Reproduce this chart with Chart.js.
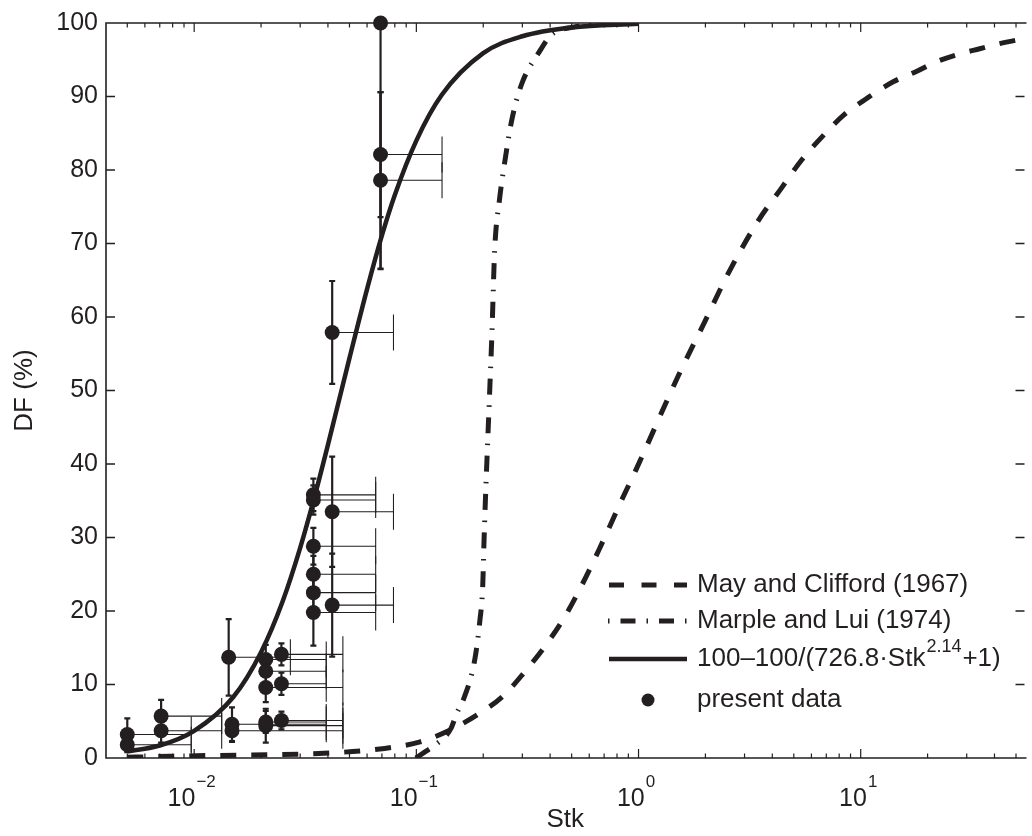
<!DOCTYPE html>
<html>
<head>
<meta charset="utf-8">
<script src="https://cdn.jsdelivr.net/npm/chart.js@4.4.0/dist/chart.umd.min.js"></script>
<style>
  body { margin: 0; background: #fff; }
  #caixa { width: 1032px; height: 836px; }
</style>
</head>
<body>
<div id="caixa"><canvas id="graficoDF" width="1032" height="836"></canvas></div>
<script>
// curvas
const mayStk = [0.005, 0.0102, 0.0413, 0.0719, 0.104, 0.142, 0.193, 0.247, 0.307, 0.377, 0.463, 0.551, 0.663, 0.849, 0.970, 1.51, 1.99, 2.52, 3.44, 4.39, 5.40, 6.84, 8.40, 10.6, 14.0, 17.8, 21.8, 27.9, 34.3, 42.2, 55];
const mayDF = [0.1, 0.3, 0.7, 1.3, 2.2, 3.8, 6.1, 8.5, 11.7, 15.1, 19.1, 23.3, 28.3, 35.4, 39.1, 52.0, 59.4, 65.8, 73.0, 77.5, 81.3, 84.8, 87.5, 89.7, 92.0, 93.4, 94.7, 95.8, 96.5, 97.2, 97.9];

const marpleStk = [0.0995, 0.109, 0.122, 0.143, 0.152, 0.164, 0.183, 0.193, 0.199, 0.2014, 0.2045, 0.213, 0.219, 0.225, 0.237, 0.250, 0.268, 0.297, 0.358, 0.405, 0.5, 0.7, 1.0];
const marpleDF = [0, 0.8, 1.8, 4.0, 6.1, 8.2, 13.3, 18.6, 23.5, 29, 35, 48.6, 58, 68.9, 76.1, 81.1, 86.6, 91.6, 96.1, 98.4, 99.4, 99.9, 100];

const ajusteStk = [0.005, 0.007, 0.01, 0.015, 0.02, 0.025, 0.03, 0.035, 0.04, 0.05, 0.06, 0.07, 0.08, 0.1, 0.13, 0.2, 0.3, 0.5, 1.0];
const ajusteDF = [0.9, 1.7, 3.7, 8.3, 14.4, 21.3, 28.6, 35.8, 42.6, 54.4, 63.8, 71.1, 76.6, 84.0, 90.2, 95.9, 98.2, 99.4, 99.9];

// dados medidos (com barras de erro)
const medStk = [0.0050, 0.0050, 0.0071, 0.0071, 0.0143, 0.0148, 0.0148, 0.0210, 0.0210, 0.0210, 0.0210, 0.0210, 0.0247, 0.0247, 0.0247, 0.0344, 0.0344, 0.0344, 0.0344, 0.0344, 0.0344, 0.0418, 0.0418, 0.0418, 0.069, 0.069, 0.069];
const medDF = [3.2, 1.8, 5.7, 3.7, 13.7, 4.6, 3.7, 13.4, 11.8, 9.6, 4.9, 4.4, 14.1, 10.1, 5.1, 35.8, 35.1, 28.8, 25.0, 22.5, 19.8, 57.9, 33.5, 20.8, 100, 82.1, 78.6];
const medErroDF = [2.2, 1.0, 2.2, 1.6, 5.2, 2.3, 1.5, 2.0, 1.8, 2.0, 1.5, 2.3, 1.5, 1.5, 1.2, 2.2, 2.0, 2.5, 2.5, 2.5, 4.5, 7.0, 7.5, 7.0, 33.5, 8.5, 12.0];
const medStkMax = [0.0097, 0.0097, 0.0133, 0.0133, 0.0271, 0.0393, 0.0467, 0.0393, 0.0393, 0.0467, 0.0393, 0.0467, 0.0467, 0.0393, 0.0467, 0.0656, 0.0656, 0.0656, 0.0656, 0.0656, 0.0656, 0.0789, 0.0789, 0.0789, 0.069, 0.1305, 0.1305];

// eixos
const yTicks = [0, 10, 20, 30, 40, 50, 60, 70, 80, 90, 100];
const xTicksValor = [0.01, 0.1, 1, 10];
const xTicksExpoente = ['\u22122', '\u22121', '0', '1'];
const legendas = ['May and Clifford (1967)', 'Marple and Lui (1974)', '100\u2013100/(726.8\u00b7Stk', 'present data'];

const cor = '#231f20';
const fonte = '"Liberation Sans", Arial, Helvetica, sans-serif';
Chart.defaults.font.family = fonte;
Chart.defaults.color = cor;

const pares = (xs, ys) => xs.map((x, i) => ({x: x, y: ys[i]}));

//moldura, tracinhos e rotulos do eixo x
const eixos = {
    id: 'eixos',
    afterDraw(chart) {
        const {ctx, chartArea: a, scales: {x, y}} = chart;
        ctx.save();
        ctx.strokeStyle = cor;
        ctx.lineWidth = 1.6;
        ctx.beginPath();
        ctx.moveTo(a.left, a.top); ctx.lineTo(a.right + 2, a.top);
        ctx.moveTo(a.left, a.top - 0.8); ctx.lineTo(a.left, a.bottom + 0.8);
        ctx.moveTo(a.left, a.bottom); ctx.lineTo(a.right + 2, a.bottom);
        yTicks.forEach(v => {
            const py = y.getPixelForValue(v);
            ctx.moveTo(a.left, py); ctx.lineTo(a.left + 9, py);
            ctx.moveTo(a.right, py); ctx.lineTo(a.right - 9, py);
        });
        ctx.stroke();
        ctx.lineWidth = 1.2;
        ctx.beginPath();
        for (let d = -3; d <= 2; d++) {
            for (let m = 1; m <= 9; m++) {
                const v = m * Math.pow(10, d);
                if (v < x.min || v > x.max) continue;
                const px = x.getPixelForValue(v);
                const len = m === 1 ? 9 : 4.5;
                ctx.moveTo(px, a.bottom); ctx.lineTo(px, a.bottom - len);
                ctx.moveTo(px, a.top); ctx.lineTo(px, a.top + len);
            }
        }
        ctx.stroke();

        ctx.fillStyle = cor;
        ctx.textBaseline = 'alphabetic';
        ctx.textAlign = 'left';
        xTicksValor.forEach((v, i) => {
            const px = x.getPixelForValue(v);
            ctx.font = '25px ' + fonte;
            const w1 = ctx.measureText('10').width;
            ctx.font = '17px ' + fonte;
            const w2 = ctx.measureText(xTicksExpoente[i]).width;
            const ini = px - (w1 + w2) / 2 - 3;
            ctx.font = '25px ' + fonte;
            ctx.fillText('10', ini, 806);
            ctx.font = '17px ' + fonte;
            ctx.fillText(xTicksExpoente[i], ini + w1 + 1, 787);
        });
        ctx.restore();
    }
};

//barras de erro dos dados medidos
const barrasErro = {
    id: 'barrasErro',
    beforeDatasetsDraw(chart) {
        const {ctx, chartArea: a, scales: {x, y}} = chart;
        ctx.save();
        ctx.beginPath();
        ctx.rect(a.left, a.top, a.right - a.left, a.bottom - a.top);
        ctx.clip();
        ctx.strokeStyle = cor;
        medStk.forEach((s, i) => {
            const px = x.getPixelForValue(s);
            const py = y.getPixelForValue(medDF[i]);
            // horizontal (so para a direita)
            const pxMax = x.getPixelForValue(medStkMax[i]);
            if (pxMax - px > 2) {
                ctx.lineWidth = 1.1;
                ctx.beginPath();
                ctx.moveTo(px, py); ctx.lineTo(pxMax, py);
                ctx.moveTo(pxMax, py - 18); ctx.lineTo(pxMax, py + 18);
                ctx.stroke();
            }
            // vertical
            const pyA = y.getPixelForValue(medDF[i] + medErroDF[i]);
            const pyB = y.getPixelForValue(medDF[i] - medErroDF[i]);
            ctx.lineWidth = 2.2;
            ctx.beginPath();
            ctx.moveTo(px, pyA); ctx.lineTo(px, pyB);
            ctx.moveTo(px - 3, pyA); ctx.lineTo(px + 3, pyA);
            ctx.moveTo(px - 3, pyB); ctx.lineTo(px + 3, pyB);
            ctx.stroke();
        });
        ctx.restore();
    }
};

//legenda dentro da area do grafico
const legenda = {
    id: 'legenda',
    afterDraw(chart) {
        const {ctx} = chart;
        const x0 = 609, x1 = 687, xt = 697;
        const linhas = [585, 621, 659, 700];
        ctx.save();
        ctx.strokeStyle = cor;
        ctx.fillStyle = cor;
        ctx.lineWidth = 5;
        ctx.setLineDash([15, 17.5]);
        ctx.beginPath(); ctx.moveTo(x0, linhas[0]); ctx.lineTo(x1, linhas[0]); ctx.stroke();
        ctx.setLineDash([15, 11, 1.5, 11]);
        ctx.lineDashOffset = 26;
        ctx.beginPath(); ctx.moveTo(x0 - 1, linhas[1]); ctx.lineTo(x1 + 1, linhas[1]); ctx.stroke();
        ctx.setLineDash([]);
        ctx.lineDashOffset = 0;
        ctx.lineWidth = 4.5;
        ctx.beginPath(); ctx.moveTo(x0, linhas[2]); ctx.lineTo(x1, linhas[2]); ctx.stroke();
        ctx.beginPath(); ctx.arc((x0 + x1) / 2, linhas[3], 6.5, 0, Math.PI * 2); ctx.fill();

        ctx.textBaseline = 'middle';
        ctx.textAlign = 'left';
        ctx.font = '26px ' + fonte;
        ctx.fillText(legendas[0], xt, linhas[0]);
        ctx.fillText(legendas[1], xt, linhas[1]);
        ctx.fillText(legendas[3], xt, linhas[3]);
        ctx.fillText(legendas[2], xt, linhas[2]);
        let w = ctx.measureText(legendas[2]).width;
        ctx.font = '18px ' + fonte;
        ctx.fillText('2.14', xt + w + 1, linhas[2] - 12);
        w += ctx.measureText('2.14').width + 2;
        ctx.font = '26px ' + fonte;
        ctx.fillText('+1)', xt + w, linhas[2]);
        ctx.restore();
    }
};

const grafico = new Chart(document.getElementById('graficoDF'), {
    type: 'scatter',
    data: {
        datasets: [{
            label: 'present data',
            data: pares(medStk, medDF),
            pointRadius: 7.5,
            pointHoverRadius: 7.5,
            pointBackgroundColor: cor,
            pointBorderWidth: 0,
            showLine: false,
            clip: false,
            order: 0
        }, {
            label: '100-100/(726.8*Stk^2.14+1)',
            data: pares(ajusteStk, ajusteDF),
            showLine: true,
            borderColor: cor,
            borderWidth: 4.5,
            pointRadius: 0,
            cubicInterpolationMode: 'monotone',
            order: 1
        }, {
            label: 'Marple and Lui (1974)',
            data: pares(marpleStk, marpleDF),
            showLine: true,
            borderColor: cor,
            borderWidth: 5,
            borderDash: [16, 10.5, 1.5, 10.5],
            pointRadius: 0,
            cubicInterpolationMode: 'monotone',
            order: 2
        }, {
            label: 'May and Clifford (1967)',
            data: pares(mayStk, mayDF),
            showLine: true,
            borderColor: cor,
            borderWidth: 5,
            borderDash: [16, 15],
            pointRadius: 0,
            cubicInterpolationMode: 'monotone',
            order: 3
        }]
    },
    options: {
        responsive: false,
        animation: false,
        layout: {padding: {top: 21, right: 0, left: 0, bottom: 0}},
        plugins: {legend: {display: false}, tooltip: {enabled: false}},
        scales: {
            x: {
                type: 'logarithmic',
                min: 0.00401,
                max: 54.6,
                grid: {display: false, drawTicks: false},
                border: {display: false},
                ticks: {display: false},
                title: {display: true, text: 'Stk', font: {size: 26, lineHeight: 1}, padding: {top: 0, bottom: 3}},
                afterFit: s => { s.height = 78; }
            },
            y: {
                min: 0,
                max: 100,
                grid: {display: false, drawTicks: false},
                border: {display: false},
                afterBuildTicks: s => { s.ticks = yTicks.map(v => ({value: v})); },
                ticks: {font: {size: 25}, padding: 8, color: cor},
                title: {display: true, text: 'DF (%)', font: {size: 26, lineHeight: 1}, padding: {top: 12, bottom: 0}},
                afterFit: s => { s.width = 106; }
            }
        }
    },
    plugins: [barrasErro, eixos, legenda]
});
</script>
</body>
</html>
